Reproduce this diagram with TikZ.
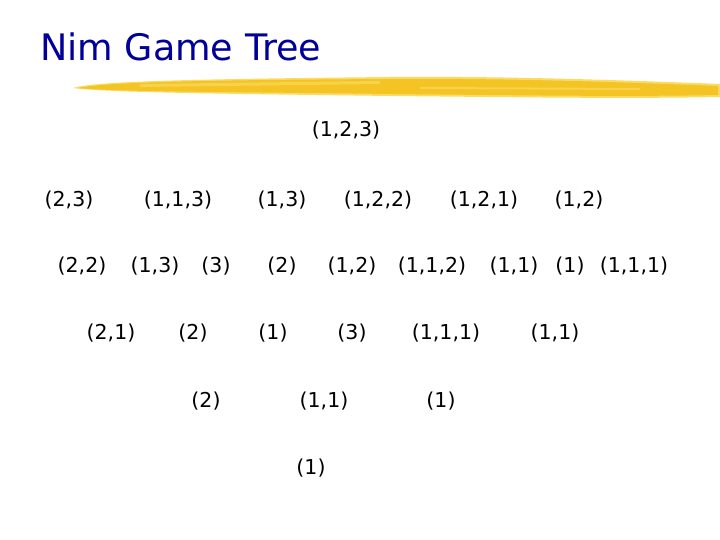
\documentclass[tikz,border=0pt]{standalone}
\usepackage{fontspec}
\setmainfont{DejaVu Sans}
\definecolor{titleblue}{RGB}{0,0,153}
\definecolor{hlgold}{RGB}{244,196,36}
\definecolor{hllight}{RGB}{250,220,100}
\begin{document}
\begin{tikzpicture}[x=1pt,y=-1pt,
  st/.style={inner sep=0pt,anchor=center,font=\fontsize{20.5}{24}\selectfont}]
\useasboundingbox (0,0) rectangle (720,540);
\fill[white] (0,0) rectangle (720,540);
% title
\node[anchor=base west,inner sep=0pt,text=titleblue,font=\fontsize{36.5}{42}\selectfont] (title) at (40,61) {Nim Game Tree};
% highlighter stroke
\fill[hllight] (73,88) .. controls (95,81) and (200,79) .. (390,77)
  .. controls (500,76) and (620,80) .. (720,84)
  -- (720,97) .. controls (620,99) and (500,97) .. (390,96)
  .. controls (250,94) and (110,93) .. (73,88) -- cycle;
\fill[hlgold] (78,88) .. controls (105,82) and (210,80) .. (390,79)
  .. controls (500,78) and (620,82) .. (718,86)
  -- (718,95) .. controls (620,97) and (500,95) .. (390,94)
  .. controls (250,92) and (115,92) .. (78,88) -- cycle;
\fill[hllight,opacity=0.6] (140,84) -- (380,81) -- (380,84) -- (140,87) -- cycle;
\fill[hllight,opacity=0.6] (420,87) -- (640,88) -- (640,90) -- (420,89) -- cycle;
% row 0
\node[st] (r) at (346,130) {(1,2,3)};
% row 1
\node[st] (a1) at (69,200) {(2,3)};
\node[st] (a2) at (178,200) {(1,1,3)};
\node[st] (a3) at (282,200) {(1,3)};
\node[st] (a4) at (378,200) {(1,2,2)};
\node[st] (a5) at (484,200) {(1,2,1)};
\node[st] (a6) at (579,200) {(1,2)};
% row 2
\node[st] (b1) at (82,266) {(2,2)};
\node[st] (b2) at (155,266) {(1,3)};
\node[st] (b3) at (216,266) {(3)};
\node[st] (b4) at (282,266) {(2)};
\node[st] (b5) at (352,266) {(1,2)};
\node[st] (b6) at (432,266) {(1,1,2)};
\node[st] (b7) at (514,266) {(1,1)};
\node[st] (b8) at (570,266) {(1)};
\node[st] (b9) at (634,266) {(1,1,1)};
% row 3
\node[st] (c1) at (111,333) {(2,1)};
\node[st] (c2) at (193,333) {(2)};
\node[st] (c3) at (273,333) {(1)};
\node[st] (c4) at (352,333) {(3)};
\node[st] (c5) at (446,333) {(1,1,1)};
\node[st] (c6) at (555,333) {(1,1)};
% row 4
\node[st] (d1) at (206,401) {(2)};
\node[st] (d2) at (324,401) {(1,1)};
\node[st] (d3) at (441,401) {(1)};
% row 5
\node[st] (e1) at (311,468) {(1)};
\end{tikzpicture}
\end{document}
